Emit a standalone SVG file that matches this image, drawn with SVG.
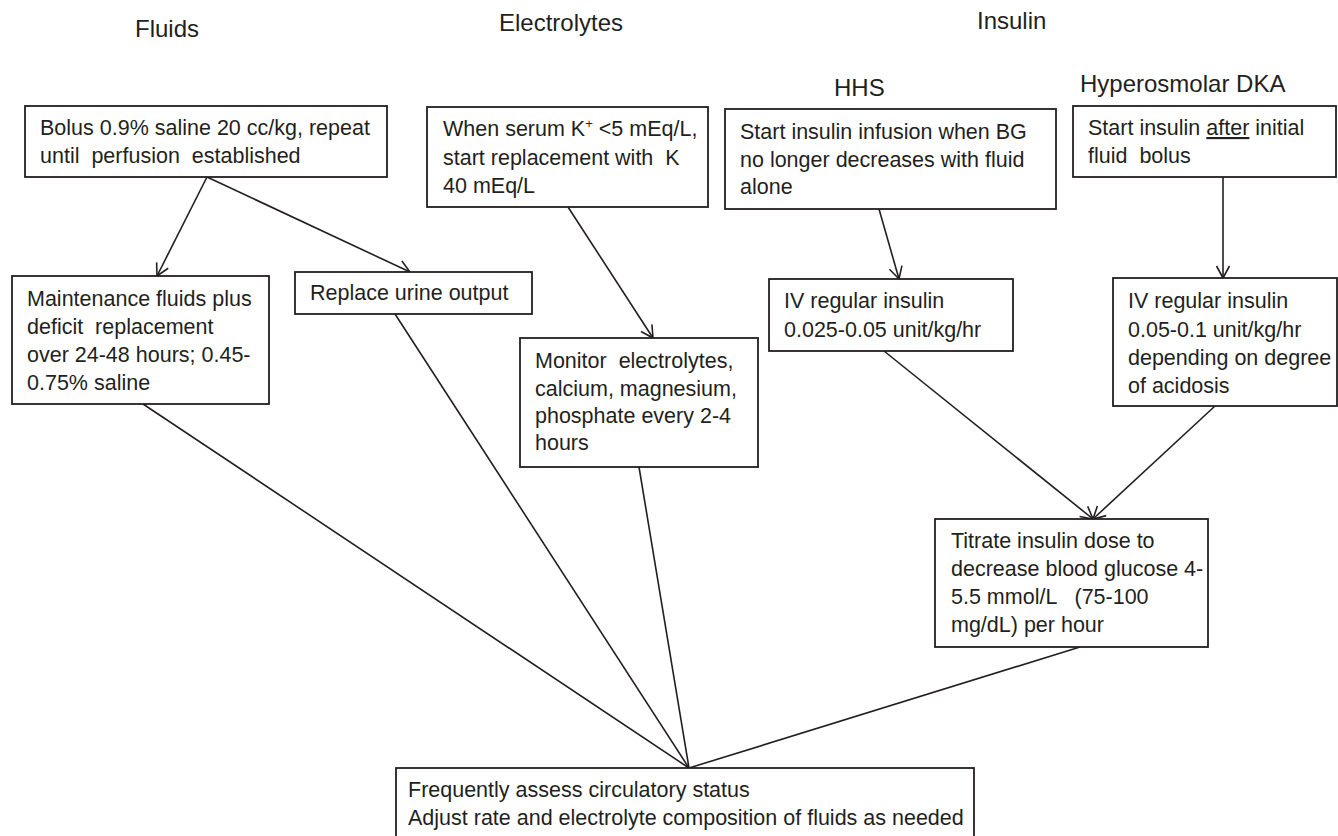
<svg xmlns="http://www.w3.org/2000/svg" width="1338" height="836" viewBox="0 0 1338 836">
<style>
  text { font-family: "Liberation Sans", Arial, sans-serif; fill: #231f20; }
  .hd { font-size: 24px; }
  .t { font-size: 21.5px; }
  .box { fill: #ffffff; stroke: #231f20; stroke-width: 1.8; }
  .ln { stroke: #231f20; stroke-width: 1.6; fill: none; }
  .arr { marker-end: url(#ah); }
</style>
<defs>
  <marker id="ah" markerUnits="userSpaceOnUse" markerWidth="16" markerHeight="16" viewBox="-1 -8 15 16" refX="12" refY="0" orient="auto">
    <path d="M0,-6.5 L12,0 L0,6.5" fill="none" stroke="#231f20" stroke-width="1.6"/>
  </marker>
</defs>
<rect width="1338" height="836" fill="#ffffff"/>

<g id="headers">
  <text class="hd" x="135" y="37">Fluids</text>
  <text class="hd" x="499" y="31">Electrolytes</text>
  <text class="hd" x="977" y="29">Insulin</text>
  <text class="hd" x="834" y="96">HHS</text>
  <text class="hd" x="1080" y="92">Hyperosmolar DKA</text>
</g>

<g id="connectors">
  <line class="ln arr" x1="207" y1="177" x2="157" y2="276"/>
  <line class="ln arr" x1="207" y1="177" x2="410" y2="272"/>
  <line class="ln arr" x1="568" y1="207" x2="653" y2="338"/>
  <line class="ln arr" x1="879" y1="209" x2="899" y2="279"/>
  <line class="ln arr" x1="1223" y1="177" x2="1223" y2="278"/>
  <line class="ln arr" x1="884" y1="351" x2="1093" y2="519"/>
  <line class="ln arr" x1="1215" y1="406" x2="1093" y2="519"/>
  <line class="ln" x1="143" y1="404" x2="689" y2="768"/>
  <line class="ln" x1="395" y1="314" x2="689" y2="768"/>
  <line class="ln" x1="639" y1="467" x2="689" y2="768"/>
  <line class="ln" x1="1080" y1="647" x2="689" y2="768"/>
</g>

<g id="bolus">
  <rect class="box" x="25" y="106" width="362" height="71"/>
  <text class="t" x="40" y="135">Bolus 0.9% saline 20 cc/kg, repeat</text>
  <text class="t" x="40" y="163" xml:space="preserve">until  perfusion  established</text>
</g>

<g id="maintenance">
  <rect class="box" x="12" y="276" width="257" height="128"/>
  <text class="t" x="27" y="306">Maintenance fluids plus</text>
  <text class="t" x="27" y="334" xml:space="preserve">deficit  replacement</text>
  <text class="t" x="27" y="362">over 24-48 hours; 0.45-</text>
  <text class="t" x="27" y="390">0.75% saline</text>
</g>

<g id="replace">
  <rect class="box" x="295" y="272" width="237" height="42"/>
  <text class="t" x="310" y="300">Replace urine output</text>
</g>

<g id="serum">
  <rect class="box" x="427" y="107" width="281" height="100"/>
  <text class="t" x="443" y="136">When serum K<tspan font-size="13" dy="-8">+</tspan><tspan dy="8"> &lt;5 mEq/L,</tspan></text>
  <text class="t" x="443" y="165" xml:space="preserve">start replacement with  K</text>
  <text class="t" x="443" y="193">40 mEq/L</text>
</g>

<g id="monitor">
  <rect class="box" x="520" y="338" width="238" height="129"/>
  <text class="t" x="535" y="368" xml:space="preserve">Monitor  electrolytes,</text>
  <text class="t" x="535" y="396">calcium, magnesium,</text>
  <text class="t" x="535" y="423">phosphate every 2-4</text>
  <text class="t" x="535" y="450">hours</text>
</g>

<g id="hhs-start">
  <rect class="box" x="725" y="109" width="331" height="100"/>
  <text class="t" x="740" y="139">Start insulin infusion when BG</text>
  <text class="t" x="740" y="167">no longer decreases with fluid</text>
  <text class="t" x="740" y="194">alone</text>
</g>

<g id="dka-start">
  <rect class="box" x="1073" y="106" width="263" height="71"/>
  <text class="t" x="1088" y="135">Start insulin <tspan style="text-decoration: underline">after</tspan> initial</text>
  <text class="t" x="1088" y="163" xml:space="preserve">fluid  bolus</text>
</g>

<g id="hhs-iv">
  <rect class="box" x="769" y="279" width="244" height="72"/>
  <text class="t" x="784" y="308">IV regular insulin</text>
  <text class="t" x="784" y="337">0.025-0.05 unit/kg/hr</text>
</g>

<g id="dka-iv">
  <rect class="box" x="1113" y="278" width="224" height="128"/>
  <text class="t" x="1128" y="308">IV regular insulin</text>
  <text class="t" x="1128" y="337">0.05-0.1 unit/kg/hr</text>
  <text class="t" x="1128" y="365">depending on degree</text>
  <text class="t" x="1128" y="393">of acidosis</text>
</g>

<g id="titrate">
  <rect class="box" x="935" y="519" width="273" height="128"/>
  <text class="t" x="951" y="548">Titrate insulin dose to</text>
  <text class="t" x="951" y="576">decrease blood glucose 4-</text>
  <text class="t" x="951" y="604" xml:space="preserve">5.5 mmol/L   (75-100</text>
  <text class="t" x="951" y="632">mg/dL) per hour</text>
</g>

<g id="assess">
  <rect class="box" x="396" y="768" width="578" height="80"/>
  <text class="t" x="408" y="797">Frequently assess circulatory status</text>
  <text class="t" x="408" y="825">Adjust rate and electrolyte composition of fluids as needed</text>
</g>
</svg>
